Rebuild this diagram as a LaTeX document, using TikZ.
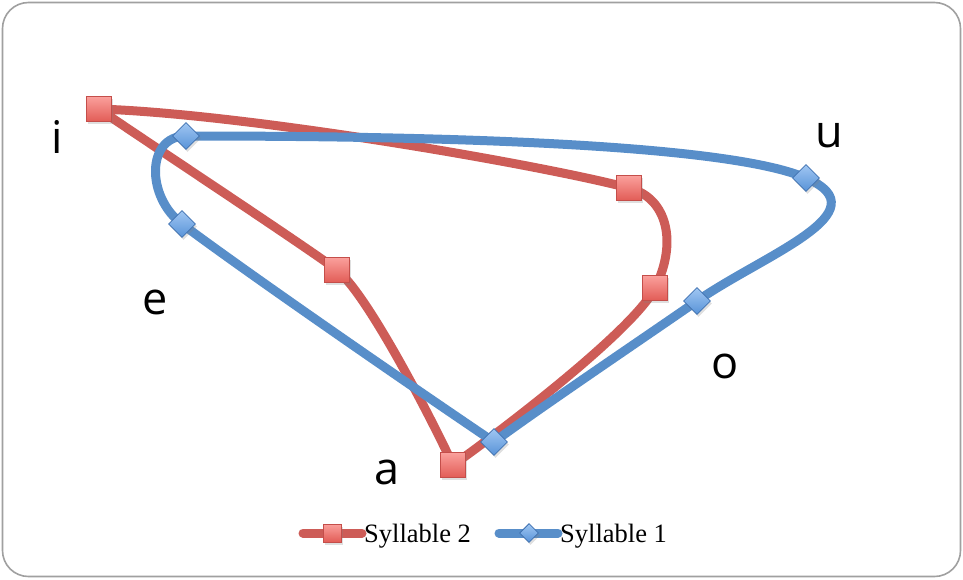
\documentclass[tikz,border=0pt]{standalone}
\usepackage{fontspec}
\setmainfont{Liberation Serif}
\newfontfamily\vowelfont{Open Sans}
\usetikzlibrary{shapes.geometric,shadows}
\definecolor{redline}{RGB}{205,92,87}
\definecolor{blueline}{RGB}{88,142,201}
\definecolor{redtop}{RGB}{250,160,156}
\definecolor{redbot}{RGB}{226,92,86}
\definecolor{redborder}{RGB}{196,78,74}
\definecolor{bluetop}{RGB}{160,199,242}
\definecolor{bluebot}{RGB}{88,146,216}
\definecolor{blueborder}{RGB}{62,112,176}
\definecolor{frame}{RGB}{160,160,160}
\tikzset{
  redcurve/.style={draw=redline, line width=9pt, line join=round, line cap=round},
  bluecurve/.style={draw=blueline, line width=9pt, line join=round, line cap=round},
  sqmark/.style={rectangle, draw=redborder, line width=0.8pt, top color=redtop, bottom color=redbot,
    minimum size=25pt, inner sep=0pt, drop shadow={shadow xshift=1.5pt, shadow yshift=-2.5pt, opacity=0.25}},
  dimark/.style={diamond, aspect=1, draw=blueborder, line width=0.8pt, top color=bluetop, bottom color=bluebot,
    minimum width=27pt, minimum height=27pt, inner sep=0pt, drop shadow={shadow xshift=1.5pt, shadow yshift=-2.5pt, opacity=0.25}},
  sqsmall/.style={sqmark, minimum size=18pt},
  dismall/.style={dimark, minimum width=19pt, minimum height=19pt},
  vowel/.style={font=\vowelfont\fontsize{45}{45}\selectfont, anchor=base, inner sep=0pt},
  legtext/.style={font=\fontsize{26.5}{26.5}\selectfont, anchor=base west, inner sep=0pt},
}
\begin{document}
\begin{tikzpicture}[x=1pt,y=-1pt]
\useasboundingbox (0,0) rectangle (963,579);
\draw[frame, line width=1.6pt, rounded corners=26pt] (2.5,2.5) rectangle (960.5,576.5);

% Syllable 2 points
\coordinate (r1) at (99,109);
\coordinate (r2) at (629,188);
\coordinate (r3) at (655,288);
\coordinate (r4) at (453,465);
\coordinate (r5) at (337,270);
% Syllable 1 points
\coordinate (b1) at (186,136);
\coordinate (b2) at (806,178);
\coordinate (b3) at (697,301);
\coordinate (b4) at (494,442);
\coordinate (b5) at (182,224);

\draw[redcurve] (r1) .. controls (249,114) and (542,165) .. (r2)
  .. controls (668,198) and (677.5,243.5) .. (r3)
  .. controls (632.5,332.5) and (486,442) .. (r4)
  .. controls (432,420) and (368,295) .. (r5)
  .. controls (305,246) and (132,132) .. (r1);
\draw[bluecurve] (b4) .. controls (411,386) and (246,272) .. (b5)
  .. controls (146,197) and (146,136) .. (b1)
  .. controls (336,136) and (714,138) .. (b2)
  .. controls (884,212) and (763,255) .. (b3)
  .. controls (648,335) and (534,412) .. (b4);

\foreach \p in {r1,r2,r3,r4,r5} \node[sqmark] (m\p) at (\p) {};
\foreach \p in {b1,b2,b3,b4,b5} \node[dimark] (m\p) at (\p) {};

% vowel labels
\node[vowel] (li) at (57,153) {i};
\node[vowel] (lu) at (829,147) {u};
\node[vowel] (le) at (155,314) {e};
\node[vowel] (lo) at (725,378) {o};
\node[vowel] (la) at (387,484) {a};

% legend
\coordinate (l2a) at (303,533);
\coordinate (l2b) at (362,533);
\coordinate (l1a) at (499,533);
\coordinate (l1b) at (558,533);
\draw[redline, line width=9pt, line cap=round] (l2a) -- (l2b);
\node[sqsmall] (lm2) at (332,533) {};
\node[legtext] (lt2) at (364,542) {Syllable 2};
\draw[blueline, line width=9pt, line cap=round] (l1a) -- (l1b);
\node[dismall] (lm1) at (529,533) {};
\node[legtext] (lt1) at (560,542) {Syllable 1};
\end{tikzpicture}
\end{document}
